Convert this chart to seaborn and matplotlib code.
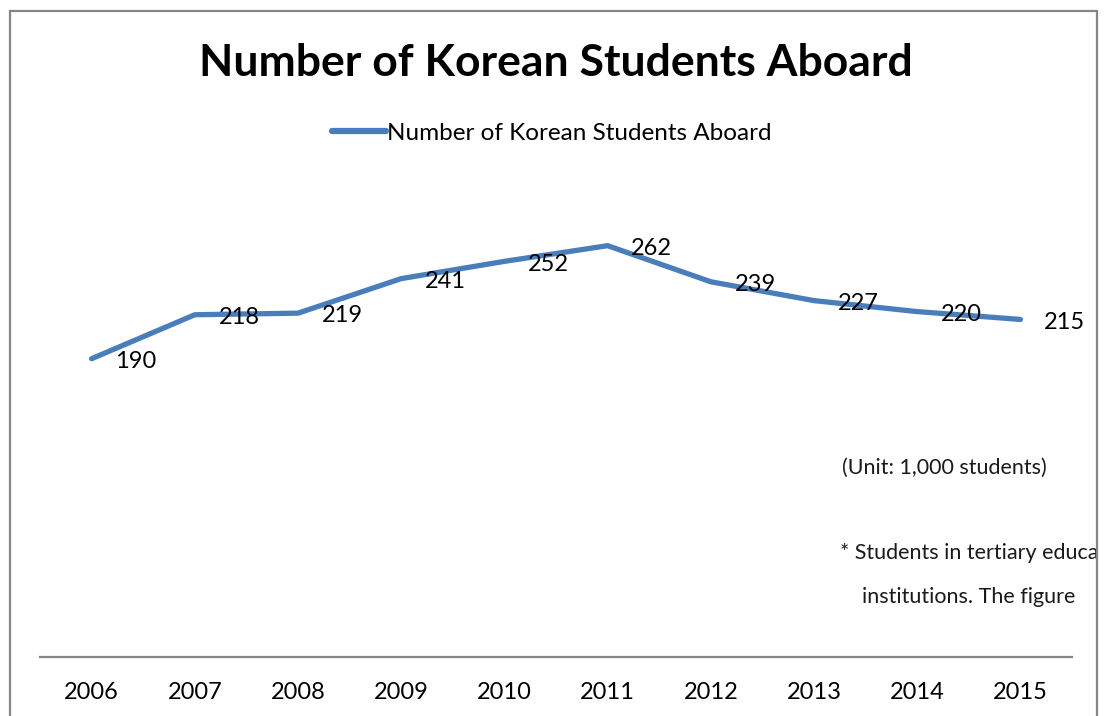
import matplotlib
matplotlib.use("Agg")
import matplotlib.pyplot as plt
import seaborn as sns
import pandas as pd
from matplotlib.patches import Rectangle

years = ["2006", "2007", "2008", "2009", "2010", "2011", "2012", "2013", "2014", "2015"]
students = [190, 218, 219, 241, 252, 262, 239, 227, 220, 215]
series_name = "Number of Korean Students Aboard"
title = "Number of Korean Students Aboard"
unit_note = "(Unit: 1,000 students)"
note_line1 = "* Students in tertiary education"
note_line2 = "institutions. The figure"

sns.set_style("white")
plt.rcParams['font.family'] = ['Lato', 'DejaVu Sans']
plt.rcParams['text.color'] = 'black'
plt.rcParams['xtick.color'] = 'black'

W, H = 1104, 716
fig = plt.figure(figsize=(W / 100, H / 100), dpi=100)
ax = fig.add_axes([40 / W, 1 - 657 / H, (1072 - 40) / W, (657 - 186) / H])

df = pd.DataFrame({"year": years, "value": students})
color = "#4A7EBB"
sns.lineplot(data=df, x="year", y="value", ax=ax, color=color, linewidth=3.8,
             label=series_name, sort=False)
ax.set_xlim(-0.5, len(years) - 0.5)
ax.set_ylim(0, 300)
ax.set_xlabel("")
ax.set_ylabel("")
ax.set_yticks([])
for s in ["left", "right", "top"]:
    ax.spines[s].set_visible(False)
ax.spines["bottom"].set_color("#868686")
ax.spines["bottom"].set_linewidth(1.6)
ax.tick_params(axis="x", length=0, labelsize=17, pad=18, labelcolor="black")

for i, v in enumerate(students):
    ax.annotate(str(v), (i, v), xytext=(17, -2), textcoords="offset points",
                ha="left", va="center", fontsize=17, color="black")

leg = ax.legend(loc="center", bbox_to_anchor=(0.5, 1 - 133 / H),
                bbox_transform=fig.transFigure, frameon=False, fontsize=17.5,
                handlelength=2.2, handletextpad=0.05, labelcolor="black")
for line in leg.get_lines():
    line.set_linewidth(4.5)

fig.text(556 / W, 1 - 63 / H, title, ha="center", va="center",
         fontsize=32, fontweight="bold", color="black")

fig.text(1047 / W, 1 - 468 / H, unit_note, ha="right", va="center",
         fontsize=15.5, color="#1a1a1a")
fig.text(840 / W, 1 - 553 / H, note_line1, ha="left", va="center",
         fontsize=15.5, color="#1a1a1a")
fig.text(862 / W, 1 - 597 / H, note_line2, ha="left", va="center",
         fontsize=15.5, color="#1a1a1a")

mask = Rectangle((1096 / W, 0), (W - 1096) / W, 1, transform=fig.transFigure,
                 facecolor="white", edgecolor="none", zorder=10)
fig.add_artist(mask)
rect = Rectangle((10 / W, -0.05), (1097 - 10) / W, 1 - 11 / H + 0.05,
                 transform=fig.transFigure, fill=False, edgecolor="#868686",
                 linewidth=1.6, zorder=11)
fig.add_artist(rect)

fig.savefig("out.png", dpi=100)
